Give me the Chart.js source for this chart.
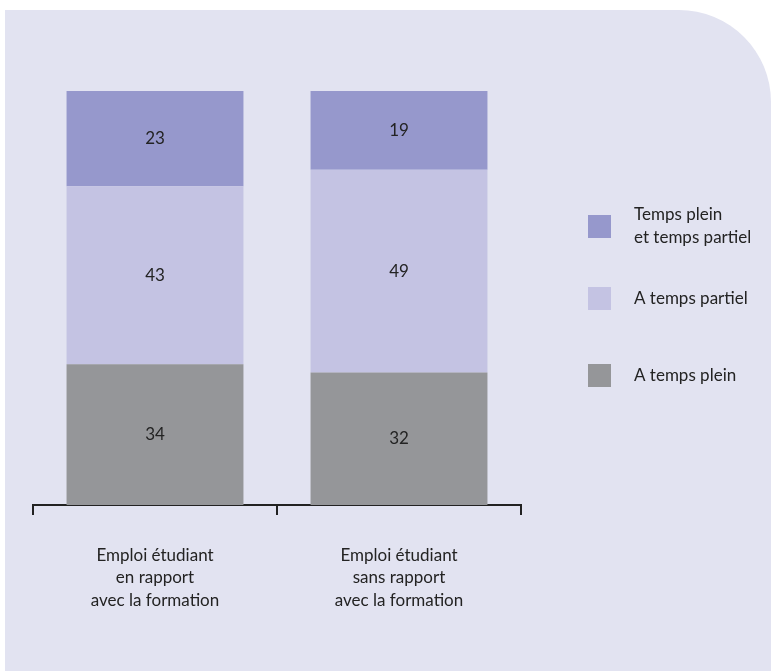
<!DOCTYPE html>
<html>
<head>
<meta charset="utf-8">
<script src="https://cdn.jsdelivr.net/npm/chart.js@4"></script>
<style>
  html, body { margin: 0; padding: 0; background: #fff; }
  #wrap { width: 771px; height: 671px; position: relative; }
</style>
</head>
<body>
<div id="wrap"><canvas id="chart"></canvas></div>
<script>
const categories = [
  ['Emploi étudiant', 'en rapport', 'avec la formation'],
  ['Emploi étudiant', 'sans rapport', 'avec la formation']
];
const pleinValues = [34, 32];
const partielValues = [43, 49];
const lesDeuxValues = [23, 19];
const seriesLabels = ['A temps plein', 'A temps partiel', ['Temps plein', 'et temps partiel']];

const colors = ['#959699', '#c4c3e3', '#9698cc'];
const FONT = 'Lato, "DejaVu Sans", sans-serif';
const TEXT = '#232323';

// fond lavande avec coin arrondi en haut à droite
const panelPlugin = {
  id: 'panel',
  beforeDraw(chart) {
    const ctx = chart.ctx;
    const W = chart.width, H = chart.height;
    ctx.save();
    ctx.fillStyle = '#ffffff';
    ctx.fillRect(0, 0, W, H);
    const x0 = 5, y0 = 10, r = 92;
    ctx.fillStyle = '#e2e3f1';
    ctx.beginPath();
    ctx.moveTo(x0, y0);
    ctx.lineTo(W - r, y0);
    ctx.arcTo(W, y0, W, y0 + r, r);
    ctx.lineTo(W, H);
    ctx.lineTo(x0, H);
    ctx.closePath();
    ctx.fill();
    ctx.restore();
  }
};

// valeurs au centre des segments
const valuePlugin = {
  id: 'values',
  afterDatasetsDraw(chart) {
    const ctx = chart.ctx;
    ctx.save();
    ctx.font = '17px ' + FONT;
    ctx.fillStyle = TEXT;
    ctx.textAlign = 'center';
    ctx.textBaseline = 'middle';
    chart.data.datasets.forEach((ds, i) => {
      chart.getDatasetMeta(i).data.forEach((bar, j) => {
        const p = bar.getCenterPoint();
        ctx.fillText(String(ds.data[j]), p.x, p.y);
      });
    });
    ctx.restore();
  }
};

// légende à droite (ordre inversé, comme dans la pile)
const legendPlugin = {
  id: 'sideLegend',
  afterDraw(chart) {
    const ctx = chart.ctx;
    const rows = [
      { i: 2, y: 215 },
      { i: 1, y: 287 },
      { i: 0, y: 364 }
    ];
    ctx.save();
    ctx.font = '17px ' + FONT;
    ctx.textBaseline = 'middle';
    rows.forEach(r => {
      const ds = chart.data.datasets[r.i];
      ctx.fillStyle = ds.backgroundColor;
      ctx.fillRect(588, r.y, 23, 23);
      ctx.fillStyle = TEXT;
      const lines = Array.isArray(ds.label) ? ds.label : [ds.label];
      const lh = 23;
      const start = r.y + 11.5 - (lines.length - 1) * lh / 2;
      lines.forEach((t, k) => ctx.fillText(t, 634, start + k * lh));
    });
    ctx.restore();
  }
};

new Chart(document.getElementById('chart').getContext('2d'), {
  type: 'bar',
  data: {
    labels: categories,
    datasets: [
      { label: seriesLabels[0], data: pleinValues, backgroundColor: colors[0] },
      { label: seriesLabels[1], data: partielValues, backgroundColor: colors[1] },
      { label: seriesLabels[2], data: lesDeuxValues, backgroundColor: colors[2] }
    ]
  },
  options: {
    responsive: true,
    maintainAspectRatio: false,
    animation: false,
    layout: { padding: { left: 33, right: 250, top: 91, bottom: 50 } },
    datasets: { bar: { categoryPercentage: 1, barPercentage: 0.725, borderWidth: 0 } },
    scales: {
      x: {
        stacked: true,
        grid: { offset: true, drawOnChartArea: false, tickLength: 10, color: '#222', lineWidth: 2 },
        border: { color: '#222', width: 2 },
        ticks: { color: TEXT, font: { family: FONT, size: 17, lineHeight: 1.32 }, padding: 29, maxRotation: 0 },
        afterFit(scale) { scale.height = 116; }
      },
      y: { stacked: true, display: false, min: 0, max: 100 }
    },
    plugins: { legend: { display: false }, tooltip: { enabled: false } }
  },
  plugins: [panelPlugin, valuePlugin, legendPlugin]
});
</script>
</body>
</html>
